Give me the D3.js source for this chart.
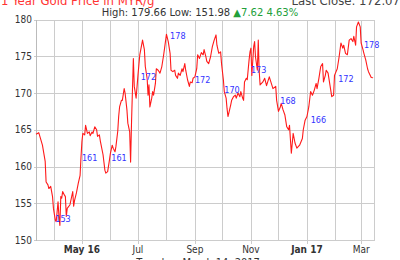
<!DOCTYPE html>
<html><head><meta charset="utf-8">
<script src="https://cdn.jsdelivr.net/npm/d3@7"></script>
<style>
html,body{margin:0;padding:0;background:#fff;}
svg{display:block;}
</style>
</head><body>
<svg id="c" width="400" height="260"></svg>
<script>
const dates = ["2016-03-12","2016-03-15","2016-03-19","2016-03-22","2016-03-23","2016-03-25","2016-03-26","2016-03-28","2016-03-30","2016-03-31",
"2016-04-02","2016-04-03","2016-04-05","2016-04-06","2016-04-07","2016-04-08","2016-04-09","2016-04-10","2016-04-12","2016-04-13","2016-04-14","2016-04-15","2016-04-18","2016-04-21","2016-04-22","2016-04-23","2016-04-25","2016-04-27","2016-04-29","2016-04-30",
"2016-05-01","2016-05-02","2016-05-04","2016-05-05","2016-05-07","2016-05-09","2016-05-10","2016-05-12","2016-05-13","2016-05-15","2016-05-17","2016-05-18","2016-05-20","2016-05-21","2016-05-24","2016-05-26","2016-05-27","2016-05-29","2016-05-31",
"2016-06-01","2016-06-03","2016-06-04","2016-06-06","2016-06-07","2016-06-09","2016-06-10","2016-06-11","2016-06-13","2016-06-14","2016-06-16","2016-06-17","2016-06-19","2016-06-20","2016-06-22","2016-06-23","2016-06-24","2016-06-26","2016-06-27","2016-06-29",
"2016-07-01","2016-07-03","2016-07-06","2016-07-08","2016-07-09","2016-07-11","2016-07-12","2016-07-13","2016-07-14","2016-07-16","2016-07-17","2016-07-18","2016-07-20","2016-07-21","2016-07-23","2016-07-25","2016-07-27","2016-07-29","2016-07-30",
"2016-08-01","2016-08-03","2016-08-05","2016-08-06","2016-08-08","2016-08-10","2016-08-11","2016-08-13","2016-08-14","2016-08-16","2016-08-18","2016-08-19","2016-08-21","2016-08-22","2016-08-24","2016-08-26","2016-08-27","2016-08-29","2016-08-30",
"2016-09-01","2016-09-03","2016-09-04","2016-09-06","2016-09-08","2016-09-10","2016-09-11","2016-09-13","2016-09-14","2016-09-16","2016-09-18","2016-09-20","2016-09-22","2016-09-24","2016-09-25","2016-09-27","2016-09-29","2016-09-30",
"2016-10-02","2016-10-03","2016-10-05","2016-10-06","2016-10-07","2016-10-08","2016-10-10","2016-10-11","2016-10-13","2016-10-15","2016-10-16","2016-10-18","2016-10-20","2016-10-21","2016-10-23","2016-10-24","2016-10-25","2016-10-27","2016-10-28","2016-10-30","2016-10-31",
"2016-11-01","2016-11-02","2016-11-04","2016-11-05","2016-11-06","2016-11-08","2016-11-09","2016-11-10","2016-11-11","2016-11-14","2016-11-16","2016-11-18","2016-11-21","2016-11-25","2016-11-28","2016-11-29",
"2016-12-01","2016-12-03","2016-12-04","2016-12-06","2016-12-08","2016-12-10","2016-12-12","2016-12-13","2016-12-15","2016-12-17","2016-12-19","2016-12-21","2016-12-24","2016-12-27","2016-12-28","2016-12-30",
"2017-01-01","2017-01-03","2017-01-05","2017-01-07","2017-01-09","2017-01-11","2017-01-12","2017-01-14","2017-01-16","2017-01-18","2017-01-19","2017-01-21","2017-01-22","2017-01-24","2017-01-26","2017-01-28","2017-01-30","2017-01-31",
"2017-02-03","2017-02-05","2017-02-07","2017-02-09","2017-02-10","2017-02-12","2017-02-14","2017-02-16","2017-02-18","2017-02-20","2017-02-21","2017-02-23","2017-02-24","2017-02-26","2017-02-28",
"2017-03-01","2017-03-03","2017-03-04","2017-03-06","2017-03-08","2017-03-09","2017-03-12","2017-03-14"];
const prices = [164.4,164.6,162.9,160.7,157.9,157.5,157.0,157.3,155.9,154.3,
152.7,152.5,155.2,153.2,151.98,155.9,155.7,156.6,156.1,155.9,153.2,154.3,154.8,156.6,154.6,155.4,156.4,157.7,158.8,161.3,
163.4,164.5,164.3,165.6,164.5,164.7,164.2,164.7,164.5,165.4,165.0,164.1,164.3,163.5,161.6,159.5,159.1,159.3,160.9,
161.8,162.9,162.5,162.0,162.7,164.8,166.8,168.1,169.0,169.0,170.6,170.0,167.7,165.9,164.7,160.6,166.0,174.7,170.9,169.3,
172.4,175.2,177.2,175.9,173.6,172.0,169.7,171.1,168.1,169.3,170.2,169.7,171.3,173.3,173.1,172.7,173.6,175.2,176.1,
178.0,177.0,175.4,173.1,172.9,173.1,172.4,172.0,172.7,172.4,173.3,172.9,174.0,173.1,171.8,170.9,171.5,171.4,172.0,
172.2,173.3,175.2,174.7,175.5,175.2,175.9,174.9,174.3,174.0,174.9,176.3,177.2,177.9,176.5,175.4,175.6,174.0,
171.8,170.2,169.3,167.9,166.8,167.3,168.4,169.0,169.5,169.7,169.3,170.0,169.5,170.2,169.3,169.0,171.5,172.0,171.8,174.5,175.6,
176.1,172.4,176.3,177.0,174.9,173.1,177.2,173.0,171.1,171.5,172.0,171.0,172.2,170.6,170.9,169.0,
167.5,168.1,168.6,167.7,167.0,165.4,165.0,165.6,161.8,164.5,163.2,162.5,162.9,163.8,165.0,166.3,
166.8,168.1,170.2,169.7,170.4,171.3,170.6,172.0,173.6,174.0,171.5,172.4,173.1,172.7,171.1,169.5,169.7,172.4,
173.3,174.9,176.8,176.1,176.5,175.4,175.2,177.2,177.4,177.0,177.7,176.5,179.0,179.66,179.0,
176.8,175.9,175.4,174.5,173.3,172.9,172.1,172.07];

const yTicks = [150,155,160,165,170,175,180];
const xTickDates = ["2016-05-01","2016-07-01","2016-09-01","2016-11-01","2017-01-01","2017-03-01"];
const xTickLabels = ["May 16","Jul","Sep","Nov","Jan 17","Mar"];
const xTickBold = [true,false,false,false,true,false];

const noteDates = ["2016-04-02","2016-05-01","2016-06-02","2016-07-04","2016-08-05","2016-09-01","2016-10-03","2016-11-01","2016-12-03","2017-01-05","2017-02-04","2017-03-04"];
const noteLevels = [152.9,161.2,161.2,172.2,177.8,171.8,170.5,173.1,169.0,166.3,171.9,176.6];
const noteTexts = ["153","161","161","172","178","172","170","173","168","166","172","178"];

const titleText = "1 Year Gold Price in MYR/g";
const lastCloseText = "Last Close: 172.07";
const statsText = "High: 179.66 Low: 151.98 ";
const changeText = "\u25B27.62 4.63%";
const dateText = "Tuesday, March 14, 2017";

const parse = d3.timeParse("%Y-%m-%d");
const data = dates.map((d,i)=>({date:parse(d), v:prices[i]}));

const svg = d3.select("#c");
const L=36, R=374, T=19.5, B=240;
const x = d3.scaleTime().domain([parse("2016-03-12"), parse("2017-03-15")]).range([L,R]);
const y = d3.scaleLinear().domain([150,180]).range([B,T]);
const font = "'DejaVu Sans Condensed','Liberation Sans',sans-serif";
const wideFont = "'DejaVu Sans',Verdana,sans-serif";

const grid = svg.append("g").attr("shape-rendering","crispEdges");
grid.selectAll("line.h").data(yTicks).join("line")
  .attr("x1",L-2).attr("x2",R).attr("y1",d=>Math.round(y(d))+0.5).attr("y2",d=>Math.round(y(d))+0.5)
  .attr("stroke","#cccccc").attr("stroke-width",1);
const months = d3.timeMonth.range(parse("2016-04-01"), parse("2017-03-02"));
grid.selectAll("line.v").data(months).join("line")
  .attr("x1",d=>Math.round(x(d))+0.5).attr("x2",d=>Math.round(x(d))+0.5)
  .attr("y1",T).attr("y2",B)
  .attr("stroke","#cccccc").attr("stroke-width",1);
grid.append("line").attr("x1",L+0.5).attr("x2",L+0.5).attr("y1",T).attr("y2",B+0.5).attr("stroke","#bbbbbb");
grid.append("line").attr("x1",R+0.5).attr("x2",R+0.5).attr("y1",T).attr("y2",B+0.5).attr("stroke","#cccccc");
grid.selectAll("line.t").data(xTickDates).join("line")
  .attr("x1",d=>Math.round(x(parse(d)))+0.5).attr("x2",d=>Math.round(x(parse(d)))+0.5)
  .attr("y1",B).attr("y2",B+4).attr("stroke","#cccccc");

svg.selectAll("text.yl").data(yTicks).join("text")
  .attr("x",L-4).attr("y",d=>y(d)).attr("dy","0.36em")
  .attr("text-anchor","end").attr("font-family",font).attr("font-size",10).attr("fill","#333")
  .text(d=>d);

svg.selectAll("text.xl").data(xTickDates).join("text")
  .attr("x",d=>x(parse(d))).attr("y",253)
  .attr("text-anchor","middle").attr("font-family",font).attr("font-size",10).attr("fill","#333")
  .attr("font-weight",(d,i)=>xTickBold[i]?"bold":"normal")
  .text((d,i)=>xTickLabels[i]);

svg.append("path").datum(data)
  .attr("d", d3.line().x(d=>x(d.date)).y(d=>y(d.v)))
  .attr("fill","none").attr("stroke","#ff1a1a").attr("stroke-width",1.1).attr("stroke-linejoin","round");

svg.selectAll("text.note").data(noteDates).join("text")
  .attr("x",d=>x(parse(d))).attr("y",(d,i)=>y(noteLevels[i])).attr("dy","0.36em")
  .attr("font-family",font).attr("font-size",9).attr("fill","#3333ff")
  .text((d,i)=>noteTexts[i]);

svg.append("text").attr("x",1).attr("y",4.5).attr("font-family",font).attr("font-size",13)
  .attr("fill","#ff3333").text(titleText);
svg.append("text").attr("x",400).attr("y",4.5).attr("text-anchor","end").attr("font-family",font).attr("font-size",13)
  .attr("fill","#444").text(lastCloseText);
const st = svg.append("text").attr("x",200).attr("y",16.3).attr("text-anchor","middle")
  .attr("font-family",wideFont).attr("font-size",10);
st.append("tspan").attr("fill","#333").text(statsText);
st.append("tspan").attr("fill","#22a03a").text(changeText);

svg.append("text").attr("x",198).attr("y",266).attr("text-anchor","middle")
  .attr("font-family",font).attr("font-size",11).attr("fill","#333").text(dateText);
</script>
</body></html>
